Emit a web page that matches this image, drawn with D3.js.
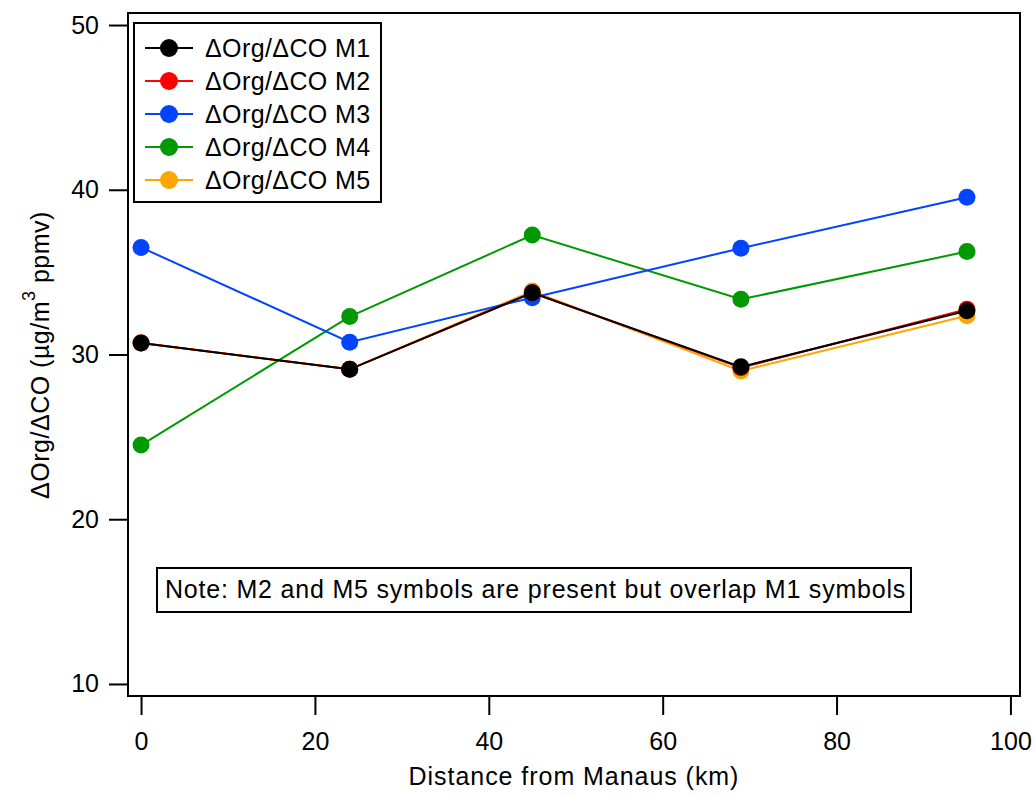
<!DOCTYPE html>
<html>
<head>
<meta charset="utf-8">
<script src="https://d3js.org/d3.v7.min.js"></script>
<style>
  body { margin: 0; background: #fff; }
  text { font-family: Arial, "Liberation Sans", sans-serif; fill: #000; }
</style>
</head>
<body>
<div id="chart-area"></div>
<script>
// data
var distance = [0, 24, 45, 69, 95];
var m1 = [30.7, 29.1, 33.75, 29.25, 32.65];
var m2 = [30.7, 29.1, 33.75, 29.2, 32.75];
var m3 = [36.5, 30.75, 33.45, 36.45, 39.55];
var m4 = [24.5, 32.3, 37.25, 33.35, 36.25];
var m5 = [30.7, 29.1, 33.85, 29.0, 32.35];
var seriesNames = ["M1", "M2", "M3", "M4", "M5"];
var xTicks = [0, 20, 40, 60, 80, 100];
var yTicks = [10, 20, 30, 40, 50];
var note = "Note: M2 and M5 symbols are present but overlap M1 symbols";

var colors = ["#000000", "#ff0000", "#0044ff", "#009900", "#ffa500"];
var series = [m1, m2, m3, m4, m5].map((vals, i) => {
  return { name: seriesNames[i], color: colors[i],
           points: vals.map((v, j) => { return {x: distance[j], y: v}; }) };
});

var margin = {top: 13, right: 15, bottom: 99, left: 128};
var width = 1035 - margin.left - margin.right;
var height = 795 - margin.top - margin.bottom;
var fs = 25;

var svg = d3.select("#chart-area").append("svg")
    .attr("width", 1035)
    .attr("height", 795);
var g = svg.append("g")
    .attr("transform", "translate(" + margin.left + ", " + margin.top + ")");

var x = d3.scaleLinear().domain([-1.5, 101.1]).range([0, width]);
var y = d3.scaleLinear().domain([9.27, 50.73]).range([height, 0]);

// axes
var leftAxis = d3.axisLeft(y).tickValues(yTicks).tickSize(19).tickPadding(10);
var bottomAxis = d3.axisBottom(x).tickValues(xTicks).tickSize(19).tickPadding(17);

var ga = g.append("g").attr("class", "left axis").call(leftAxis);
var gb = g.append("g").attr("class", "bottom axis")
    .attr("transform", "translate(0, " + height + ")").call(bottomAxis);
[ga, gb].forEach((a) => {
  a.select(".domain").remove();
  a.selectAll("line").attr("stroke", "#000").attr("stroke-width", 2);
  a.selectAll("text").attr("font-size", fs + "px")
    .style("font-family", "Arial, 'Liberation Sans', sans-serif");
});

// frame
g.append("rect")
  .attr("x", 0).attr("y", 0)
  .attr("width", width).attr("height", height)
  .attr("fill", "none").attr("stroke", "#000").attr("stroke-width", 2);

// lines and markers, M1 on top
var line = d3.line().x((d) => x(d.x)).y((d) => y(d.y));
series.slice().reverse().forEach((s) => {
  g.append("path")
    .datum(s.points)
    .attr("fill", "none")
    .attr("stroke", s.color)
    .attr("stroke-width", 2)
    .attr("d", line);
  g.selectAll(null)
    .data(s.points)
    .enter()
    .append("circle")
      .attr("cx", (d) => x(d.x))
      .attr("cy", (d) => y(d.y))
      .attr("r", 8.5)
      .attr("fill", s.color);
});

// legend
var legend = g.append("g").attr("transform", "translate(6, 10)");
legend.append("rect")
  .attr("width", 247).attr("height", 179)
  .attr("fill", "#fff").attr("stroke", "#000").attr("stroke-width", 2);
var rows = legend.selectAll("g.row")
  .data(series)
  .enter()
  .append("g")
    .attr("class", "row")
    .attr("transform", (d, i) => "translate(0, " + (25 + i * 33) + ")");
rows.append("line")
  .attr("x1", 11).attr("x2", 59)
  .attr("stroke", (d) => d.color).attr("stroke-width", 2);
rows.append("circle")
  .attr("cx", 35).attr("r", 9)
  .attr("fill", (d) => d.color);
rows.append("text")
  .attr("x", 71).attr("y", 9)
  .attr("font-size", fs + "px")
  .attr("letter-spacing", "0.4px")
  .text((d) => "\u0394Org/\u0394CO " + d.name);

// note box
var noteG = g.append("g").attr("transform", "translate(29, 555)");
var noteRect = noteG.append("rect")
  .attr("fill", "#fff").attr("stroke", "#000").attr("stroke-width", 2);
var noteText = noteG.append("text")
  .attr("x", 8).attr("y", 30)
  .attr("font-size", fs + "px")
  .attr("letter-spacing", "0.8px")
  .text(note);
var nb = noteText.node().getBBox();
noteRect.attr("width", Math.max(nb.width + 12, 754)).attr("height", 44);

// axis labels
svg.append("text")
  .attr("x", margin.left + width / 2)
  .attr("y", 785)
  .attr("font-size", fs + "px")
  .attr("letter-spacing", "0.95px")
  .attr("text-anchor", "middle")
  .text("Distance from Manaus (km)");

var yl = svg.append("text")
  .attr("transform", "translate(49, 355) rotate(-90)")
  .attr("font-size", fs + "px")
  .attr("letter-spacing", "0.5px")
  .attr("text-anchor", "middle");
yl.append("tspan").text("\u0394Org/\u0394CO (\u00b5g/m");
yl.append("tspan").attr("dy", -14).attr("font-size", "18px").text("3");
yl.append("tspan").attr("dy", 14).text(" ppmv)");
</script>
</body>
</html>
